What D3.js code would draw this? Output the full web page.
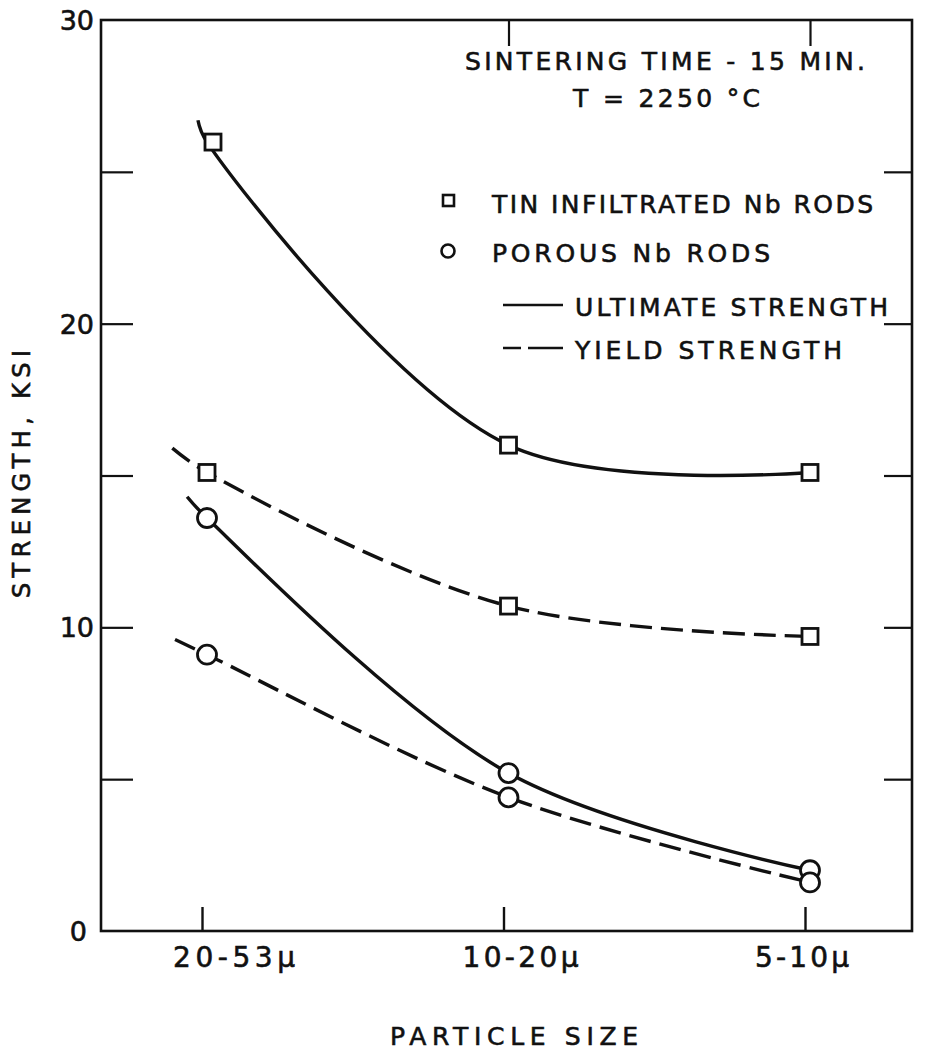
<!DOCTYPE html>
<html>
<head>
<meta charset="utf-8">
<script src="https://cdn.jsdelivr.net/npm/d3@7"></script>
<style>
  html, body { margin: 0; padding: 0; background: #fff; }
  svg text { font-family: "DejaVu Sans", sans-serif; fill: #111; stroke: #111; stroke-width: 0.6px; }
</style>
</head>
<body>
<svg id="chart" width="928" height="1059"></svg>
<script>
// ---- data ----
const categories = ["20-53\u03BC", "10-20\u03BC", "5-10\u03BC"];
const yTicks = [0, 5, 10, 15, 20, 25, 30];
const yTickLabels = ["0", "", "10", "", "20", "", "30"];

const tinUltimate = [25.98, 16.0, 15.1];
const tinYield = [15.1, 10.7, 9.7];
const porousUltimate = [13.6, 5.2, 2.0];
const porousYield = [9.1, 4.4, 1.6];

// hand-drawn fit lines start a little left of the first point
const fitStartIndex = [-0.03, -0.115, -0.066, -0.106];
const fitStartValue = [26.7, 15.9, 14.3, 9.6];

const series = [
  { name: "tinUlt", values: tinUltimate, marker: "square", dash: false },
  { name: "tinYield", values: tinYield, marker: "square", dash: true },
  { name: "porUlt", values: porousUltimate, marker: "circle", dash: false },
  { name: "porYield", values: porousYield, marker: "circle", dash: true }
];

// ---- layout ----
const svg = d3.select("#chart");
const frame = { left: 101, right: 912, top: 20, bottom: 931 };

const x = d3.scaleLinear().domain([0, 2]).range([207, 810]);
const y = d3.scaleLinear().domain([0, 30]).range([frame.bottom, frame.top]);

const ink = "#111";

// frame
svg.append("rect")
  .attr("x", frame.left).attr("y", frame.top)
  .attr("width", frame.right - frame.left).attr("height", frame.bottom - frame.top)
  .attr("fill", "none").attr("stroke", ink).attr("stroke-width", 2.6);

// left axis (ticks inward)
const leftAxis = d3.axisRight(y).tickValues(yTicks).tickSize(32).tickFormat("");
const gl = svg.append("g").attr("transform", `translate(${frame.left},0)`).call(leftAxis);
gl.select(".domain").remove();
gl.selectAll(".tick line").attr("stroke", ink).attr("stroke-width", 2.2);
gl.selectAll(".tick").filter(d => d === 0 || d === 30).remove();

// left tick labels
svg.append("g").selectAll("text").data(yTicks.filter((d, i) => yTickLabels[i] !== ""))
  .join("text")
  .attr("x", d => d === 0 ? frame.left - 14 : frame.left - 7)
  .attr("y", d => y(d) + 10)
  .attr("text-anchor", "end")
  .attr("font-size", 27)
  .text(d => yTickLabels[yTicks.indexOf(d)]);

// right axis (ticks inward)
const rightAxis = d3.axisLeft(y).tickValues(yTicks.filter(d => d > 0 && d < 30)).tickSize(28).tickFormat("");
const gr = svg.append("g").attr("transform", `translate(${frame.right},0)`).call(rightAxis);
gr.select(".domain").remove();
gr.selectAll(".tick line").attr("stroke", ink).attr("stroke-width", 2.2);

// bottom axis (ticks inward)
const bottomAxis = d3.axisTop(x).tickValues([0, 1, 2]).tickSize(24).tickFormat("");
const gb = svg.append("g").attr("transform", `translate(-5,${frame.bottom})`).call(bottomAxis);
gb.select(".domain").remove();
gb.selectAll(".tick line").attr("stroke", ink).attr("stroke-width", 2.4);

// top axis (ticks inward)
const topAxis = d3.axisBottom(x).tickValues([1, 2]).tickSize(26).tickFormat("");
const gt = svg.append("g").attr("transform", `translate(0,${frame.top})`).call(topAxis);
gt.select(".domain").remove();
gt.selectAll(".tick line").attr("stroke", ink).attr("stroke-width", 2.2);

// category labels (label starts a little left of each tick)
const catWidths = [122, 116, 94];
const catShift = [-34, -46, -55];
svg.append("g").selectAll("text").data(categories).join("text")
  .attr("x", (d, i) => x(i) + catShift[i])
  .attr("y", frame.bottom + 36)
  .attr("font-size", 28)
  .attr("textLength", (d, i) => catWidths[i]).attr("lengthAdjust", "spacing")
  .text(d => d);

// axis titles
svg.append("text")
  .attr("x", 390).attr("y", 1045)
  .attr("font-size", 25)
  .attr("textLength", 248).attr("lengthAdjust", "spacing")
  .text("PARTICLE SIZE");

svg.append("text")
  .attr("transform", "translate(30,598) rotate(-90)")
  .attr("font-size", 24)
  .attr("textLength", 248).attr("lengthAdjust", "spacing")
  .text("STRENGTH, KSI");

// ---- curves ----
const line = d3.line()
  .x(d => x(d[0]))
  .y(d => y(d[1]))
  .curve(d3.curveCatmullRom.alpha(0.5));

series.forEach((s, si) => {
  const pts = [[fitStartIndex[si], fitStartValue[si]]].concat(s.values.map((v, i) => [i, v]));
  svg.append("path")
    .attr("d", line(pts))
    .attr("fill", "none")
    .attr("stroke", ink)
    .attr("stroke-width", 3.4)
    .attr("stroke-dasharray", s.dash ? "22 9" : null);
});

// markers
series.forEach(s => {
  const g = svg.append("g");
  if (s.marker === "square") {
    g.selectAll("rect").data(s.values).join("rect")
      .attr("x", (d, i) => x(i) - 8 + (i === 0 && !s.dash ? 6 : 0)).attr("y", d => y(d) - 8)
      .attr("width", 16).attr("height", 16)
      .attr("fill", "#fff").attr("stroke", ink).attr("stroke-width", 2.8);
  } else {
    g.selectAll("circle").data(s.values).join("circle")
      .attr("cx", (d, i) => x(i)).attr("cy", d => y(d))
      .attr("r", 9.5)
      .attr("fill", "#fff").attr("stroke", ink).attr("stroke-width", 2.8);
  }
});

// ---- legend / annotation ----
svg.append("text")
  .attr("x", 465).attr("y", 70)
  .attr("font-size", 25)
  .attr("textLength", 400).attr("lengthAdjust", "spacing")
  .text("SINTERING TIME  -  15 MIN.");
svg.append("text")
  .attr("x", 573).attr("y", 107)
  .attr("font-size", 25)
  .attr("textLength", 187).attr("lengthAdjust", "spacing")
  .text("T = 2250 \u00B0C");

svg.append("rect")
  .attr("x", 443).attr("y", 195).attr("width", 11).attr("height", 11)
  .attr("fill", "#fff").attr("stroke", ink).attr("stroke-width", 2.6);
svg.append("text")
  .attr("x", 492).attr("y", 213)
  .attr("font-size", 25)
  .attr("textLength", 381).attr("lengthAdjust", "spacing")
  .text("TIN INFILTRATED Nb RODS");

svg.append("circle")
  .attr("cx", 448).attr("cy", 251).attr("r", 6.5)
  .attr("fill", "#fff").attr("stroke", ink).attr("stroke-width", 2.6);
svg.append("text")
  .attr("x", 492).attr("y", 262)
  .attr("font-size", 25)
  .attr("textLength", 278).attr("lengthAdjust", "spacing")
  .text("POROUS Nb RODS");

svg.append("line")
  .attr("x1", 503).attr("x2", 563).attr("y1", 305).attr("y2", 305)
  .attr("stroke", ink).attr("stroke-width", 2.6);
svg.append("text")
  .attr("x", 575).attr("y", 316)
  .attr("font-size", 25)
  .attr("textLength", 313).attr("lengthAdjust", "spacing")
  .text("ULTIMATE STRENGTH");

svg.append("line")
  .attr("x1", 503).attr("x2", 563).attr("y1", 348).attr("y2", 348)
  .attr("stroke", ink).attr("stroke-width", 2.6)
  .attr("stroke-dasharray", "18 7 35");
svg.append("text")
  .attr("x", 575).attr("y", 359)
  .attr("font-size", 25)
  .attr("textLength", 267).attr("lengthAdjust", "spacing")
  .text("YIELD STRENGTH");
</script>
</body>
</html>
